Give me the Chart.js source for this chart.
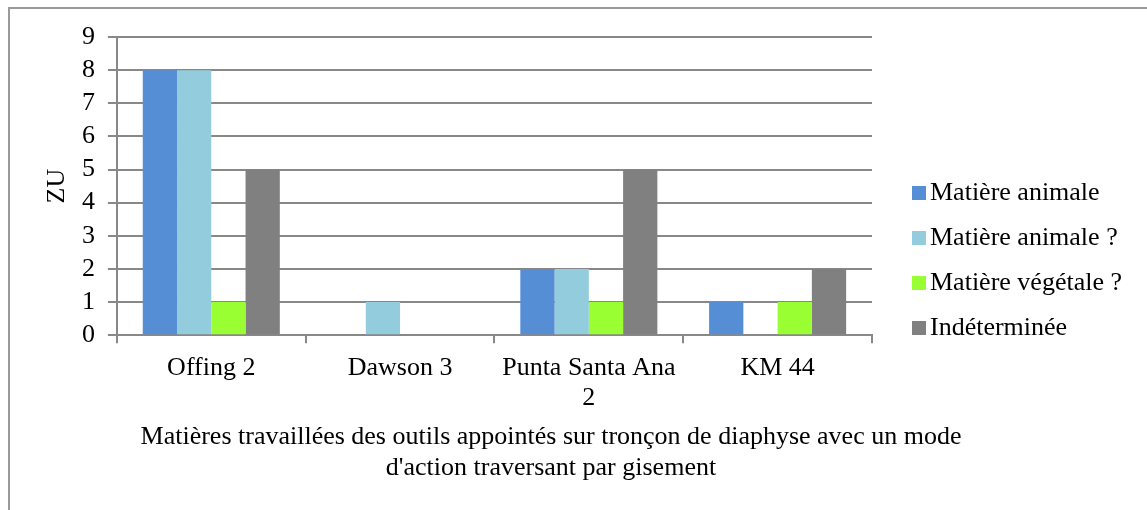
<!DOCTYPE html>
<html>
<head>
<meta charset="utf-8">
<title>Matières travaillées par gisement</title>
<script src="https://cdn.jsdelivr.net/npm/chart.js@4"></script>
<style>
  body { margin: 0; background: #fff; overflow: hidden; }
  #wrap { position: relative; width: 1147px; height: 510px; }
  #frame { position: absolute; left: 8px; top: 7px; width: 1300px; height: 700px;
           border-left: 2px solid #9a9a9a; border-top: 2px solid #9a9a9a; }
  canvas { position: absolute; left: 0; top: 0; }
</style>
</head>
<body>
<div id="wrap">
  <div id="frame"></div>
  <canvas id="chart"></canvas>
</div>
<script>
const categories = ['Offing 2', 'Dawson 3', ['Punta Santa Ana', '2'], 'KM 44'];
const seriesNames = ['Matière animale', 'Matière animale ?', 'Matière végétale ?', 'Indéterminée'];
const animale     = [8, 0, 2, 1];
const animaleQ    = [8, 1, 2, 0];
const vegetaleQ   = [1, 0, 1, 1];
const indetermine = [5, 0, 5, 2];
const seriesColors = ['#558ed5', '#93cddd', '#99ff33', '#808080'];
const captionLines = [
  'Matières travaillées des outils appointés sur tronçon de diaphyse avec un mode',
  "d'action traversant par gisement"
];

const FONT = "'Liberation Serif', 'Times New Roman', serif";
const LINE = '#888888';

Chart.defaults.font.family = FONT;
Chart.defaults.font.size = 26;
Chart.defaults.color = '#000';

// legend on the right and caption under the axis, drawn by hand
const sideText = {
  id: 'sideText',
  afterDraw(chart) {
    const ctx = chart.ctx;
    ctx.save();
    ctx.font = '26px ' + FONT;
    ctx.fillStyle = '#000';
    ctx.textBaseline = 'middle';
    chart.data.datasets.forEach((ds, i) => {
      const y = 193 + i * 45;
      ctx.fillStyle = ds.backgroundColor;
      ctx.fillRect(912, y - 7, 14, 14);
      ctx.fillStyle = '#000';
      ctx.textAlign = 'left';
      ctx.fillText(ds.label, 930, y);
    });
    ctx.textAlign = 'center';
    captionLines.forEach((line, i) => ctx.fillText(line, 551, 437 + i * 31));
    ctx.restore();
  }
};

const datasets = [animale, animaleQ, vegetaleQ, indetermine].map((data, i) => ({
  label: seriesNames[i],
  data: data,
  backgroundColor: seriesColors[i],
  borderWidth: 0,
  categoryPercentage: 0.726,
  barPercentage: 1.0
}));

new Chart(document.getElementById('chart'), {
  type: 'bar',
  data: { labels: categories, datasets: datasets },
  options: {
    responsive: true,
    maintainAspectRatio: false,
    animation: false,
    layout: { padding: { top: 37, left: 42, right: 275, bottom: 87 } },
    plugins: {
      legend: { display: false },
      tooltip: { enabled: false }
    },
    scales: {
      x: {
        grid: { drawOnChartArea: false, drawTicks: true, tickLength: 8, color: LINE, lineWidth: 2 },
        border: { color: LINE, width: 2 },
        ticks: { padding: 10, maxRotation: 0, autoSkip: false, font: { lineHeight: 1.15 } }
      },
      y: {
        min: 0,
        max: 9,
        grid: { color: LINE, lineWidth: 2, tickLength: 9 },
        border: { color: LINE, width: 2 },
        ticks: { stepSize: 1, autoSkip: false, padding: 13, font: { lineHeight: 1.15 } },
        title: { display: true, text: 'ZU', padding: { top: 0, bottom: -3 }, font: { lineHeight: 1.15 } }
      }
    }
  },
  plugins: [sideText]
});
</script>
</body>
</html>
